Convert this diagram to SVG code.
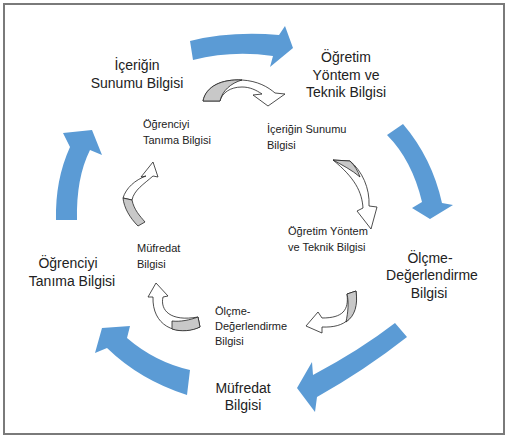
<svg xmlns="http://www.w3.org/2000/svg" width="511" height="438" viewBox="0 0 511 438">
<style>
.big{font-family:"Liberation Sans",Arial,sans-serif;font-size:14px;fill:#222;text-anchor:middle}
.sm{font-family:"Liberation Sans",Arial,sans-serif;font-size:11px;fill:#222}
.blue{fill:#5B9BD5}
.w{fill:#fff;stroke:#222;stroke-width:0.8;stroke-linejoin:round}
.g{fill:#c8c8c8;stroke:#222;stroke-width:0.8;stroke-linejoin:round}
</style>
<rect x="0" y="0" width="511" height="438" fill="#fff"/>
<rect x="4" y="4" width="500" height="430" fill="none" stroke="#7a7a7a" stroke-width="2"/>

<g id="connectors">
  <!-- big blue arrows -->
  <path class="blue" d="M190,41 Q230,31 279,35 L285,26 L293,48 L270,67 L273,56 Q232,50 193,60 Z"/>
  <path class="blue" d="M387,135 L403,124 Q432,158 442,203 L453,205 L430,219 L412,208 L422,202 Q412,160 387,135 Z"/>
  <path class="blue" d="M395,323 L407,337 Q365,370 317,397 L315,412 L297,388 L312,362 L313,375 Q360,350 395,323 Z"/>
  <path class="blue" d="M190,370 L187,395 Q140,380 107,348 L95,353 L102,328 L130,326 L127,338 Q155,362 190,370 Z"/>
  <path class="blue" d="M56,220 L77,220 Q76,178 90,150 L102,155 L92,130 L63,133 L70,147 Q55,180 56,220 Z"/>

  <!-- small curved arrows -->
  <path class="w" d="M203,101 C206,86 222,79 242,80 C258,81 268,87 275,93 L285,94 L268,106 L253,95 L262,94 C256,90 250,87 242,87 C230,87 222,93 220,101 Z"/>
  <path class="g" d="M203,101 C206,86 222,79 242,80 C231,83 222,91 220,101 Z"/>

  <path class="w" d="M333,160 L350,161 C362,171 370,188 369,206 L377,207 L371,229 L357,211 L363,208 C362,192 355,178 333,160 Z"/>
  <path class="g" d="M333,160 L350,161 C355,166 358,171 360,177 C352,170 342,165 333,160 Z"/>

  <path class="w" d="M347,294 C349,310 343,318 322,318 L318,312 L306,326 L322,333 L322,327 C345,328 358,318 356,291 Z"/>
  <path class="g" d="M347,294 L356,291 C358,305 355,316 346,322 C348,312 349,303 347,294 Z"/>

  <path class="w" d="M153,297 L148,297 L156,283 L168,296 L163,297 C160,310 170,322 198,317 L200,327 C175,337 152,325 153,297 Z"/>
  <path class="g" d="M172,321 C180,322 190,320 198,317 L200,327 C192,331 181,332 172,329 Z"/>

  <path class="w" d="M146,176 L141,177 L153,162 L158,177 L153,176 C144,184 134,190 132,200 L123,198 C126,188 135,180 146,176 Z"/>
  <path class="g" d="M123,198 L132,200 C134,210 140,216 145,222 L138,226 C130,218 124,208 123,198 Z"/>
</g>

<g id="n-iceriginsunumu">
  <text class="big" x="137" y="70">İçeriğin</text>
  <text class="big" x="137" y="88">Sunumu Bilgisi</text>
</g>
<g id="n-ogretimyontem">
  <text class="big" x="346" y="62">Öğretim</text>
  <text class="big" x="346" y="80">Yöntem ve</text>
  <text class="big" x="346" y="97">Teknik Bilgisi</text>
</g>
<g id="n-olcme">
  <text class="big" x="430" y="263">Ölçme-</text>
  <text class="big" x="432" y="280">Değerlendirme</text>
  <text class="big" x="429" y="298">Bilgisi</text>
</g>
<g id="n-mufredat">
  <text class="big" x="243" y="393">Müfredat</text>
  <text class="big" x="243" y="410">Bilgisi</text>
</g>
<g id="n-ogrenciyi">
  <text class="big" x="68" y="268">Öğrenciyi</text>
  <text class="big" x="72" y="286">Tanıma Bilgisi</text>
</g>

<g id="s-ogrenciyi">
  <text class="sm" x="143" y="128">Öğrenciyi</text>
  <text class="sm" x="143" y="144">Tanıma Bilgisi</text>
</g>
<g id="s-icerigin">
  <text class="sm" x="267" y="133">İçeriğin Sunumu</text>
  <text class="sm" x="267" y="149">Bilgisi</text>
</g>
<g id="s-ogretim">
  <text class="sm" x="288" y="235">Öğretim Yöntem</text>
  <text class="sm" x="288" y="251">ve Teknik Bilgisi</text>
</g>
<g id="s-mufredat">
  <text class="sm" x="137" y="252">Müfredat</text>
  <text class="sm" x="137" y="268">Bilgisi</text>
</g>
<g id="s-olcme">
  <text class="sm" x="215" y="315">Ölçme-</text>
  <text class="sm" x="215" y="330">Değerlendirme</text>
  <text class="sm" x="215" y="345">Bilgisi</text>
</g>
</svg>
